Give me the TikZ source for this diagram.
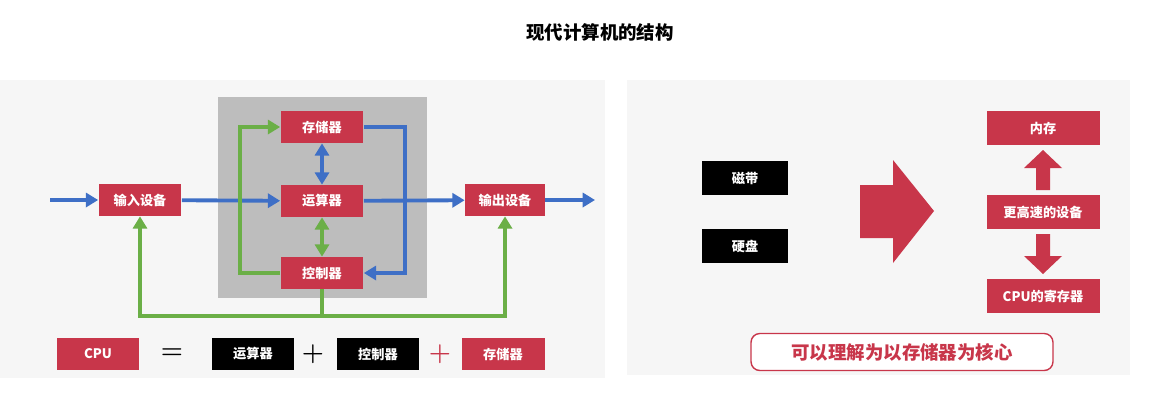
\documentclass[tikz,border=0pt]{standalone}
\usepackage{fontspec}
\newfontfamily\cjk{Noto Sans CJK SC}
\usepackage{xcolor}
\usetikzlibrary{arrows.meta}
\usetikzlibrary{positioning}
\usetikzlibrary{calc}
\definecolor{cred}{HTML}{C8364A}
\definecolor{cblue}{HTML}{3E6FC6}
\definecolor{cgreen}{HTML}{6BAF47}
\definecolor{cgray}{HTML}{BDBDBD}
\definecolor{cpanel}{HTML}{F6F6F6}

\begin{document}
\begin{tikzpicture}[x=0.02cm,y=-0.02cm,>={Triangle[length=7pt,width=8pt]},
	redbox/.style={fill=cred, text=white, minimum width=1.66cm, minimum height=0.64cm, inner sep=0pt, font=\cjk\bfseries\fontsize{7.5}{8}\selectfont},
	blackbox/.style={redbox, fill=black},
	bline/.style={cblue, line width=2.2pt},
	gline/.style={cgreen, line width=2.2pt}]
			\useasboundingbox (0,0) rectangle (1162,400);
			%panels
			\fill[cpanel] (0,80) rectangle (605,378);
			\fill[cpanel] (627,80) rectangle (1130,375);
			\fill[cgray] (218,97) rectangle (427,298);
			
			%title
			\node[font=\cjk\bfseries\fontsize{10.5}{12}\selectfont] (title) at (600,32) {现代计算机的结构};
			
			%coordinates
			\coordinate (inA)  at (50,200);
			\coordinate (outA) at (595,200);
			
			%nodes
			\node[redbox] (mem) at (322,127) {存储器};
			\node[redbox] (alu) at (322,201) {运算器};
			\node[redbox] (ctl) at (322,273) {控制器};
			\node[redbox] (inp) at (140,200) {输入设备};
			\node[redbox, minimum width=1.6cm] (outp) at (505,200) {输出设备};
			
			\node[redbox] (cpu) at (98,354) {CPU};
			\node[font=\bfseries\Large] (eq) at (172,354) {=};
			\node[blackbox] (balu) at (253,354) {运算器};
			\node[font=\bfseries\Large] (plusA) at (313,354) {+};
			\node[blackbox] (bctl) at (378,354) {控制器};
			\node[font=\bfseries\Large, text=cred] (plusB) at (440,354) {+};
			\node[redbox] (bmem) at (503,354) {存储器};
			
			%blue data paths
			\draw[bline,->] (inA) -- (inp);
			\draw[bline,->] (inp) -- (alu);
			\draw[bline,->] (alu) -- (outp);
			\draw[bline,->] (outp) -- (outA);
			\draw[bline,<->] (mem) -- (alu);
			\draw[bline,->] (mem.east) -| (405,250) |- (ctl.east);
			
			%green control paths
			\draw[gline,<->] (alu) -- (ctl);
			\draw[gline,->] (ctl.west) -| (240,200) |- (mem.west);
			\draw[gline,->] (ctl.south) -- (322,316) -| (inp.south);
			\draw[gline,->] (322,316) -| (outp.south);
			
			%right side
			\node[blackbox, minimum width=1.72cm, minimum height=0.68cm] (tape) at (745,178) {磁带};
			\node[blackbox, minimum width=1.72cm, minimum height=0.68cm] (disk) at (745,246) {硬盘};
			\fill[cred] (860,185) -- (893,185) -- (893,160) -- (934,211) -- (893,263) -- (893,238) -- (860,238) -- cycle;
			
			\node[redbox, minimum width=2.26cm, minimum height=0.68cm] (ram) at (1043,128) {内存};
			\node[redbox, minimum width=2.26cm, minimum height=0.68cm] (fast) at (1043,212) {更高速的设备};
			\node[redbox, minimum width=2.26cm, minimum height=0.68cm] (reg) at (1043,296) {CPU的寄存器};
			\fill[cred] (1036,190) -- (1036,168) -- (1024,168) -- (1043,150) -- (1062,168) -- (1050,168) -- (1050,190) -- cycle;
			\fill[cred] (1036,234) -- (1036,256) -- (1024,256) -- (1043,274) -- (1062,256) -- (1050,256) -- (1050,234) -- cycle;
			
			\node[draw=cred, line width=0.8pt, rounded corners=5pt, fill=white, text=cred, minimum width=6.04cm, minimum height=0.74cm, font=\cjk\bfseries\fontsize{10.5}{12}\selectfont] (core) at (902,352) {可以理解为以存储器为核心};
\end{tikzpicture}
\end{document}
